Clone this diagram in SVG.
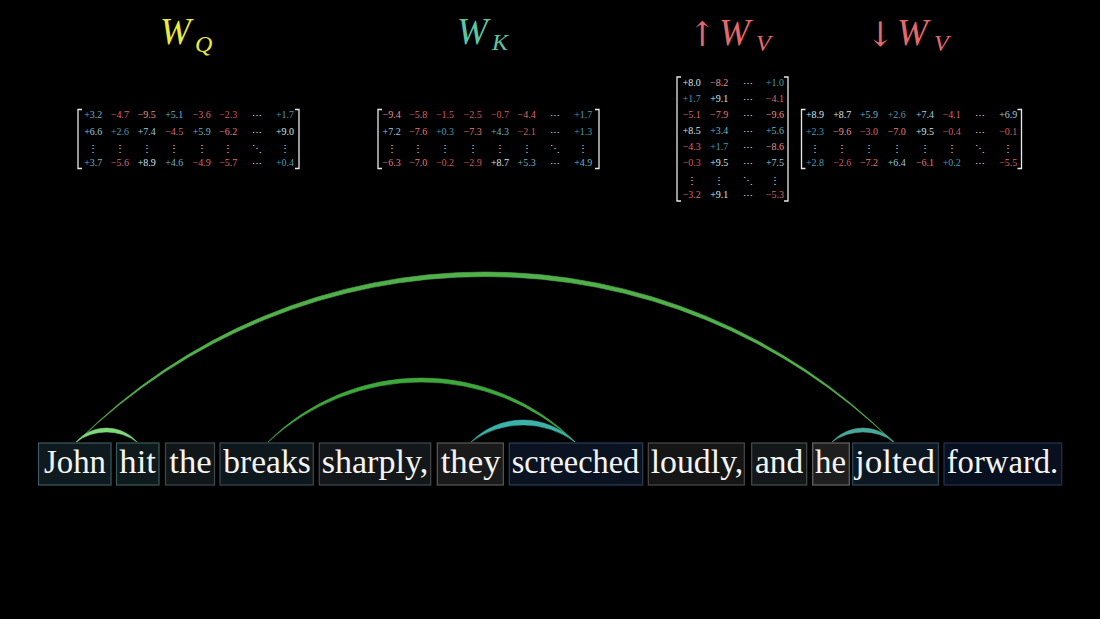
<svg xmlns="http://www.w3.org/2000/svg" width="1100" height="619" viewBox="0 0 1100 619">
<style>
.bg{fill:#000}
.title{font-family:"Liberation Serif","DejaVu Serif",serif;font-size:37px;font-style:italic}
.sub{font-size:24px}
.arr{font-family:"DejaVu Serif","Liberation Serif",serif;font-style:normal;font-size:34px}
.m{font-family:"Liberation Serif","DejaVu Serif",serif;font-size:10px;text-anchor:middle}
.d{font-family:"DejaVu Serif","Liberation Serif",serif;font-size:10px;text-anchor:middle;fill:#dddddd}
.br{fill:none;stroke:#e8e8e8;stroke-width:1.3}
.p1{fill:#4a9ab0}.p2{fill:#6cb4ca}.p3{fill:#98cddc}.p4{fill:#cfe6ee}
.n1{fill:#d15a5a}.n2{fill:#da6868}.n3{fill:#e07a7a}.n4{fill:#e89090}
.box{stroke-width:1.2}
.w{font-family:"Liberation Serif","DejaVu Serif",serif;font-size:34px;fill:#f4f4f4}
</style>
<rect class="bg" x="0" y="0" width="1100" height="619"/>

<g id="title-wq"><text class="title" fill="#ecea3c"><tspan x="160" y="44">W</tspan><tspan class="sub" x="195" y="52">Q</tspan></text></g>
<g id="title-wk"><text class="title" fill="#5cc6a4"><tspan x="457" y="44">W</tspan><tspan class="sub" x="492" y="50">K</tspan></text></g>
<g id="title-wv-up"><text class="arr" x="688" y="46" fill="#e46a6a">↑</text><text class="title" fill="#e46a6a"><tspan x="719" y="45">W</tspan><tspan class="sub" x="756" y="51">V</tspan></text></g>
<g id="title-wv-down"><text class="arr" x="866" y="46" fill="#e46a6a">↓</text><text class="title" fill="#e46a6a"><tspan x="897" y="45">W</tspan><tspan class="sub" x="934" y="51">V</tspan></text></g>

<g id="matrix-wq">
<path class="br" d="M82,109.5 H78 V168.5 H82 M295,109.5 H299 V168.5 H295"/>
<text class="m" y="118"><tspan x="93.3" class="p2">+3.2</tspan><tspan x="120" class="n2">−4.7</tspan><tspan x="146.7" class="n4">−9.5</tspan><tspan x="174.3" class="p2">+5.1</tspan><tspan x="201.7" class="n2">−3.6</tspan><tspan x="228.3" class="n1">−2.3</tspan><tspan x="285" class="p1">+1.7</tspan></text>
<text class="m" y="135"><tspan x="93.3" class="p3">+6.6</tspan><tspan x="120" class="p1">+2.6</tspan><tspan x="146.7" class="p3">+7.4</tspan><tspan x="174.3" class="n2">−4.5</tspan><tspan x="201.7" class="p2">+5.9</tspan><tspan x="228.3" class="n3">−6.2</tspan><tspan x="285" class="p4">+9.0</tspan></text>
<text class="m" y="166"><tspan x="93.3" class="p2">+3.7</tspan><tspan x="120" class="n2">−5.6</tspan><tspan x="146.7" class="p4">+8.9</tspan><tspan x="174.3" class="p2">+4.6</tspan><tspan x="201.7" class="n2">−4.9</tspan><tspan x="228.3" class="n2">−5.7</tspan><tspan x="285" class="p1">+0.4</tspan></text>
<text class="d" y="119"><tspan x="256.7">⋯</tspan></text>
<text class="d" y="136"><tspan x="256.7">⋯</tspan></text>
<text class="d" y="167"><tspan x="256.7">⋯</tspan></text>
<text class="d" y="152"><tspan x="93.3">⋮</tspan><tspan x="120">⋮</tspan><tspan x="146.7">⋮</tspan><tspan x="174.3">⋮</tspan><tspan x="201.7">⋮</tspan><tspan x="228.3">⋮</tspan><tspan x="256.7">⋱</tspan><tspan x="285">⋮</tspan></text>
</g>

<g id="matrix-wk">
<path class="br" d="M382,109.5 H378 V168.5 H382 M595,109.5 H599 V168.5 H595"/>
<text class="m" y="118"><tspan x="391.6" class="n4">−9.4</tspan><tspan x="418.3" class="n2">−5.8</tspan><tspan x="445" class="n1">−1.5</tspan><tspan x="472.6" class="n1">−2.5</tspan><tspan x="500" class="n1">−0.7</tspan><tspan x="526.6" class="n2">−4.4</tspan><tspan x="583.3" class="p1">+1.7</tspan></text>
<text class="m" y="135"><tspan x="391.6" class="p3">+7.2</tspan><tspan x="418.3" class="n3">−7.6</tspan><tspan x="445" class="p1">+0.3</tspan><tspan x="472.6" class="n3">−7.3</tspan><tspan x="500" class="p2">+4.3</tspan><tspan x="526.6" class="n1">−2.1</tspan><tspan x="583.3" class="p1">+1.3</tspan></text>
<text class="m" y="166"><tspan x="391.6" class="n3">−6.3</tspan><tspan x="418.3" class="n3">−7.0</tspan><tspan x="445" class="n1">−0.2</tspan><tspan x="472.6" class="n1">−2.9</tspan><tspan x="500" class="p4">+8.7</tspan><tspan x="526.6" class="p2">+5.3</tspan><tspan x="583.3" class="p2">+4.9</tspan></text>
<text class="d" y="119"><tspan x="555">⋯</tspan></text>
<text class="d" y="136"><tspan x="555">⋯</tspan></text>
<text class="d" y="167"><tspan x="555">⋯</tspan></text>
<text class="d" y="152"><tspan x="391.6">⋮</tspan><tspan x="418.3">⋮</tspan><tspan x="445">⋮</tspan><tspan x="472.6">⋮</tspan><tspan x="500">⋮</tspan><tspan x="526.6">⋮</tspan><tspan x="555">⋱</tspan><tspan x="583.3">⋮</tspan></text>
</g>

<g id="matrix-wv-up">
<path class="br" d="M681,77 H677 V201 H681 M784,77 H788 V201 H784"/>
<text class="m" y="86"><tspan x="691.7" class="p4">+8.0</tspan><tspan x="719.3" class="n4">−8.2</tspan><tspan x="775" class="p1">+1.0</tspan></text>
<text class="m" y="102"><tspan x="691.7" class="p1">+1.7</tspan><tspan x="719.3" class="p4">+9.1</tspan><tspan x="775" class="n2">−4.1</tspan></text>
<text class="m" y="118"><tspan x="691.7" class="n2">−5.1</tspan><tspan x="719.3" class="n3">−7.9</tspan><tspan x="775" class="n4">−9.6</tspan></text>
<text class="m" y="134"><tspan x="691.7" class="p4">+8.5</tspan><tspan x="719.3" class="p2">+3.4</tspan><tspan x="775" class="p2">+5.6</tspan></text>
<text class="m" y="150"><tspan x="691.7" class="n2">−4.3</tspan><tspan x="719.3" class="p1">+1.7</tspan><tspan x="775" class="n4">−8.6</tspan></text>
<text class="m" y="166"><tspan x="691.7" class="n1">−0.3</tspan><tspan x="719.3" class="p4">+9.5</tspan><tspan x="775" class="p3">+7.5</tspan></text>
<text class="m" y="198"><tspan x="691.7" class="n2">−3.2</tspan><tspan x="719.3" class="p4">+9.1</tspan><tspan x="775" class="n2">−5.3</tspan></text>
<text class="d" y="87"><tspan x="748.3">⋯</tspan></text>
<text class="d" y="103"><tspan x="748.3">⋯</tspan></text>
<text class="d" y="119"><tspan x="748.3">⋯</tspan></text>
<text class="d" y="135"><tspan x="748.3">⋯</tspan></text>
<text class="d" y="151"><tspan x="748.3">⋯</tspan></text>
<text class="d" y="167"><tspan x="748.3">⋯</tspan></text>
<text class="d" y="199"><tspan x="748.3">⋯</tspan></text>
<text class="d" y="184"><tspan x="691.7">⋮</tspan><tspan x="719.3">⋮</tspan><tspan x="748.3">⋱</tspan><tspan x="775">⋮</tspan></text>
</g>

<g id="matrix-wv-down">
<path class="br" d="M805.5,109.5 H801.5 V168.5 H805.5 M1017.5,109.5 H1021.5 V168.5 H1017.5"/>
<text class="m" y="118"><tspan x="815" class="p4">+8.9</tspan><tspan x="842.3" class="p4">+8.7</tspan><tspan x="869" class="p2">+5.9</tspan><tspan x="896.7" class="p1">+2.6</tspan><tspan x="925" class="p3">+7.4</tspan><tspan x="951.7" class="n2">−4.1</tspan><tspan x="1008.3" class="p3">+6.9</tspan></text>
<text class="m" y="135"><tspan x="815" class="p1">+2.3</tspan><tspan x="842.3" class="n4">−9.6</tspan><tspan x="869" class="n2">−3.0</tspan><tspan x="896.7" class="n3">−7.0</tspan><tspan x="925" class="p4">+9.5</tspan><tspan x="951.7" class="n1">−0.4</tspan><tspan x="1008.3" class="n1">−0.1</tspan></text>
<text class="m" y="166"><tspan x="815" class="p1">+2.8</tspan><tspan x="842.3" class="n1">−2.6</tspan><tspan x="869" class="n3">−7.2</tspan><tspan x="896.7" class="p3">+6.4</tspan><tspan x="925" class="n3">−6.1</tspan><tspan x="951.7" class="p1">+0.2</tspan><tspan x="1008.3" class="n2">−5.5</tspan></text>
<text class="d" y="119"><tspan x="980">⋯</tspan></text>
<text class="d" y="136"><tspan x="980">⋯</tspan></text>
<text class="d" y="167"><tspan x="980">⋯</tspan></text>
<text class="d" y="152"><tspan x="815">⋮</tspan><tspan x="842.3">⋮</tspan><tspan x="869">⋮</tspan><tspan x="896.7">⋮</tspan><tspan x="925">⋮</tspan><tspan x="951.7">⋮</tspan><tspan x="980">⋱</tspan><tspan x="1008.3">⋮</tspan></text>
</g>

<g id="connectors">
<path d="M77,442 A574.6,574.6 0 0 1 893,442 A585.7,585.7 0 0 0 77,442 Z" fill="#52b04c" stroke="#52b04c" stroke-width="0.6"/>
<path d="M268,442 A216.1,216.1 0 0 1 575,442 A226.4,226.4 0 0 0 268,442 Z" fill="#3fa83c" stroke="#3fa83c" stroke-width="0.6"/>
<path d="M76,442 A40.2,40.2 0 0 1 137,442 A51.5,51.5 0 0 0 76,442 Z" fill="#7ed97a" stroke="#7ed97a" stroke-width="0.5"/>
<path d="M471,442 A72.5,72.5 0 0 1 575,442 A88,88 0 0 0 471,442 Z" fill="#3bb3aa" stroke="#3bb3aa" stroke-width="0.5"/>
<path d="M832,442 A41.3,41.3 0 0 1 894,442 A53,53 0 0 0 832,442 Z" fill="#4aa898" stroke="#4aa898" stroke-width="0.5"/>
</g>

<g id="w-john"><rect class="box" x="38.5" y="443" width="72.5" height="42" fill="#0f1a1f" stroke="#3d5a63"/><text class="w" x="44" y="473" textLength="62" lengthAdjust="spacingAndGlyphs">John</text></g>
<g id="w-hit"><rect class="box" x="116.5" y="443" width="42.5" height="42" fill="#0e1a1c" stroke="#3c5a5a"/><text class="w" x="119.3" y="473" textLength="36.7" lengthAdjust="spacingAndGlyphs">hit</text></g>
<g id="w-the"><rect class="box" x="165.5" y="443" width="49" height="42" fill="#111618" stroke="#3d4a4d"/><text class="w" x="169.3" y="473" textLength="42.4" lengthAdjust="spacingAndGlyphs">the</text></g>
<g id="w-breaks"><rect class="box" x="220" y="443" width="93.3" height="42" fill="#0e171c" stroke="#3a4c55"/><text class="w" x="223.3" y="473" textLength="87.4" lengthAdjust="spacingAndGlyphs">breaks</text></g>
<g id="w-sharply"><rect class="box" x="319.3" y="443" width="111.4" height="42" fill="#131719" stroke="#424a4d"/><text class="w" x="321.7" y="473" textLength="106.6" lengthAdjust="spacingAndGlyphs">sharply,</text></g>
<g id="w-they"><rect class="box" x="437.3" y="443" width="66" height="42" fill="#1a1a1a" stroke="#5a5a5a"/><text class="w" x="440.7" y="473" textLength="60" lengthAdjust="spacingAndGlyphs">they</text></g>
<g id="w-screeched"><rect class="box" x="509.3" y="443" width="133.4" height="42" fill="#0b1322" stroke="#2c4058"/><text class="w" x="511.7" y="473" textLength="127.6" lengthAdjust="spacingAndGlyphs">screeched</text></g>
<g id="w-loudly"><rect class="box" x="648.3" y="443" width="96" height="42" fill="#151515" stroke="#4a4a4a"/><text class="w" x="650.7" y="473" textLength="92.6" lengthAdjust="spacingAndGlyphs">loudly,</text></g>
<g id="w-and"><rect class="box" x="751.7" y="443" width="55" height="42" fill="#131719" stroke="#46504f"/><text class="w" x="755" y="473" textLength="48.3" lengthAdjust="spacingAndGlyphs">and</text></g>
<g id="w-he"><rect class="box" x="812.7" y="443" width="36.6" height="42" fill="#1e1e1e" stroke="#666666"/><text class="w" x="815" y="473" textLength="31" lengthAdjust="spacingAndGlyphs">he</text></g>
<g id="w-jolted"><rect class="box" x="852.7" y="443" width="85.6" height="42" fill="#0c1721" stroke="#2f4a57"/><text class="w" x="855" y="473" textLength="80" lengthAdjust="spacingAndGlyphs">jolted</text></g>
<g id="w-forward"><rect class="box" x="944" y="443" width="117.7" height="42" fill="#08101f" stroke="#22324f"/><text class="w" x="946.7" y="473" textLength="111.6" lengthAdjust="spacingAndGlyphs">forward.</text></g>
</svg>
